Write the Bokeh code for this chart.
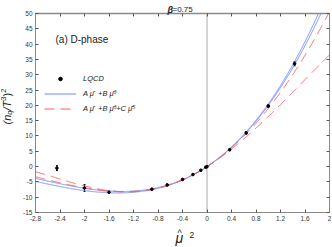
import numpy as np
from bokeh.plotting import figure
from bokeh.models import (LinearAxis, FixedTicker, CustomJSTickFormatter, Label,
                          Legend, LegendItem, Whisker, ColumnDataSource, TeeHead, Range1d)
from bokeh.embed import file_html
from bokeh.resources import INLINE

# ---- data ----
mu2_lqcd = [-2.45, -2.0, -1.6, -0.9, -0.65, -0.4, -0.23, -0.1, -0.02, 0.0, 0.37, 0.64, 1.0, 1.43]
nq2_lqcd = [-0.5, -7.0, -8.4, -7.4, -6.0, -4.2, -2.6, -1.2, -0.2, 0.0, 5.5, 11.0, 19.8, 33.6]
nq2_err = [0.8, 1.1, 0.4, 0.3, 0.3, 0.2, 0.2, 0.2, 0.1, 0.1, 0.3, 0.4, 0.5, 0.7]

# fit parameters (band edges of the two- and three-parameter fits)
fit2_A = [3.64, 3.64]
fit2_B = [0.88, 0.83]
fit3_A = [3.55, 3.60]
fit3_B = [0.623, 0.790]
fit3_C = [-0.131, -0.0378]

x_ticks = [-2.8, -2.4, -2.0, -1.6, -1.2, -0.8, -0.4, 0.0, 0.4, 0.8, 1.2, 1.6, 2.0]
y_ticks = [-15, -10, -5, 0, 5, 10, 15, 20, 25, 30, 35, 40, 45, 50]
X_LO, X_HI = -2.8, 2.0
Y_LO, Y_HI = -15, 50

# ---- layout (canvas pixels) ----
W, H = 332, 247
PX_L, PX_R, PX_T, PX_B = 35, 329, 13, 212
sx = (PX_R - PX_L) / (X_HI - X_LO)
sy = (PX_B - PX_T) / (Y_HI - Y_LO)
xr = Range1d(X_LO - PX_L / sx, X_HI + (W - PX_R) / sx)
yr = Range1d(Y_LO - (H - PX_B) / sy, Y_HI + PX_T / sy)

FONT = "Liberation Sans"
BLUE = "#6f8cff"
RED = "#ff5a5a"
AX = "#8a8a8a"
TXT = "#222222"

p = figure(width=W, height=H, x_range=xr, y_range=yr, output_backend="svg",
           toolbar_location=None, x_axis_location=None, y_axis_location=None,
           min_border=0)
p.grid.visible = False
p.outline_line_color = None
p.background_fill_color = "white"

fmt = CustomJSTickFormatter(code="return String(Number(tick.toFixed(1)))")
blank = CustomJSTickFormatter(code="return ''")

def make_axis(loc, bounds, ticks, formatter, side):
    ax = LinearAxis(fixed_location=loc, bounds=bounds)
    ax.ticker = FixedTicker(ticks=ticks)
    ax.formatter = formatter
    ax.axis_line_color = AX
    ax.axis_line_width = 1
    ax.major_tick_in = 3
    ax.major_tick_out = 0
    ax.major_tick_line_color = "#555555"
    ax.minor_tick_line_color = None
    ax.major_label_text_font = FONT
    ax.major_label_text_font_size = "6.5px"
    ax.major_label_text_color = "#333333"
    ax.major_label_standoff = 3
    p.add_layout(ax, side)
    return ax

make_axis(X_LO, (Y_LO, Y_HI), y_ticks, fmt, "left")
b = make_axis(Y_LO, (X_LO, X_HI), x_ticks, fmt, "below")
b.major_label_standoff = 3
t = make_axis(Y_HI, (X_LO, X_HI), x_ticks, blank, "above")
t.axis_line_width = 1.6
make_axis(X_HI, (Y_LO, Y_HI), y_ticks, blank, "right")

# vertical line at mu^2 = 0
p.segment(x0=[0], y0=[Y_LO], x1=[0], y1=[Y_HI], line_color="#aaaaaa", line_width=1)

xs = np.linspace(X_LO, X_HI, 1200)

def clip(y):
    y = np.asarray(y, dtype=float).copy()
    y[y > Y_HI] = np.nan
    return y

blue_r = []
for A, B in zip(fit2_A, fit2_B):
    blue_r.append(p.line(xs, clip(xs * (A + B * xs) ** 2), line_color=BLUE, line_width=1))
red_r = []
for A, B, C in zip(fit3_A, fit3_B, fit3_C):
    red_r.append(p.line(xs, clip(xs * (A + B * xs + C * xs ** 2) ** 2), line_color=RED,
                        line_width=1, line_dash="10 6"))

src = ColumnDataSource(dict(x=mu2_lqcd, y=nq2_lqcd,
                            up=[a + e for a, e in zip(nq2_lqcd, nq2_err)],
                            lo=[a - e for a, e in zip(nq2_lqcd, nq2_err)]))
p.add_layout(Whisker(base="x", upper="up", lower="lo", source=src, line_color="black",
                     line_width=1,
                     upper_head=TeeHead(size=2, line_color="black"),
                     lower_head=TeeHead(size=2, line_color="black")))
pts = p.scatter("x", "y", source=src, size=2.6, color="black")

leg = Legend(items=[LegendItem(label="LQCD", renderers=[pts]),
                    LegendItem(label="A μ̂  +B μ̂³", renderers=[blue_r[0]]),
                    LegendItem(label="A μ̂  +B μ̂³+C μ̂⁵", renderers=[red_r[0]])],
             location=(44, H - 115), orientation="vertical",
             glyph_width=32, glyph_height=9, label_height=14, label_standoff=7,
             spacing=1, padding=0, margin=0,
             border_line_color=None, background_fill_alpha=0,
             label_text_font=FONT, label_text_font_size="7.5px",
             label_text_font_style="italic", label_text_color=TXT)
p.add_layout(leg)

def lab(text, x, y_from_top, size, style="normal", angle=0.0, baseline="alphabetic"):
    p.add_layout(Label(x=x, y=H - y_from_top, x_units="screen", y_units="screen",
                       text=text, text_font=FONT, text_font_size=size,
                       text_font_style=style, text_color=TXT, angle=angle,
                       text_align="left", text_baseline=baseline))

# panel annotation
lab("(a)  D-phase", 55, 38.5, "10px")
# title
lab("β", 167, 9, "9px", style="bold italic")
lab(" =0.75", 172, 9, "8px")
# x-axis label: mu-hat squared
lab("μ", 175, 237, "14px", style="italic")
lab("^", 177, 232, "9px")
lab("2", 189, 234, "8.5px")
# y-axis label, rotated and composed: (n_q / T^3)^2
R = np.pi / 2
lab("(n", 6, 124, "11px", style="italic", angle=R, baseline="middle")
lab("q", 8.5, 114.2, "7.5px", style="italic", angle=R, baseline="middle")
lab("/T", 6, 110, "11px", style="italic", angle=R, baseline="middle")
lab("3", 2.5, 100.2, "7.5px", angle=R, baseline="middle")
lab(")", 6, 96, "11px", angle=R, baseline="middle")
lab("2", 2.5, 92.3, "7.5px", angle=R, baseline="middle")

open("out.html", "w").write(file_html(p, INLINE))
